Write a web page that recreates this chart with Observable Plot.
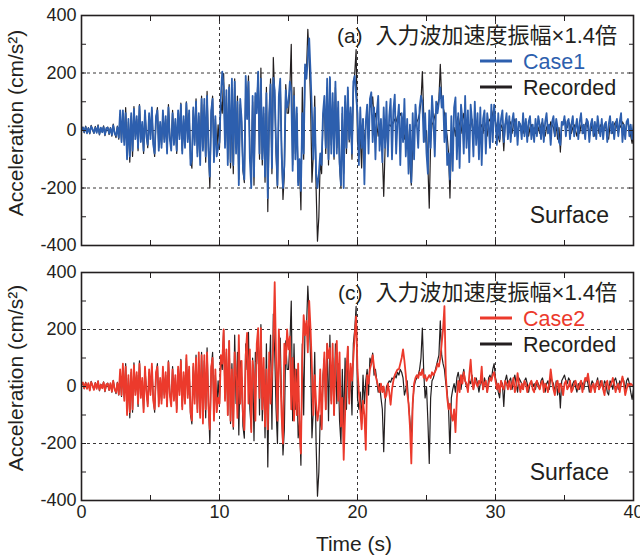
<!DOCTYPE html>
<html>
<head>
<meta charset="utf-8">
<script src="https://cdn.jsdelivr.net/npm/d3@7"></script>
<script src="https://cdn.jsdelivr.net/npm/@observablehq/plot@0.6"></script>
<style>
  html, body { margin: 0; padding: 0; background: #fff; }
  #chart { width: 640px; height: 556px; }
  #chart svg { display: block; overflow: visible; }
</style>
</head>
<body>
<div id="chart"></div>
<script>
// sampling interval of the records (s)
const dt = 0.1;

// Recorded surface acceleration (cm/s^2), one line per second
const recorded = [
  5, 12, -8, 15, -5, 10, -12, 18, 2, -10,
  14, -6, 20, -15, 8, -4, 16, -18, 6, 12,
  -14, 10, -20, 22, -8, -25, 15, -30, 40, -35,
  60, -40, 80, -60, 30, -110, 50, -90, 83, -20,
  40, -70, 90, -30, 20, -80, 60, -10, -60, 50,
  -20, 70, -40, -90, 40, 80, -60, 20, -50, 60,
  -30, 40, -70, 90, -20, -60, 70, -40, 30, -80,
  60, -20, 95, -70, 40, -50, 100, -30, 60, -100,
  -131, 70, -40, 110, -80, 50, -100, 120, -60, 90,
  -110, 136, -60, -200, 60, 120, -90, 40, -80, 20,
  -60, 100, 60, 198, -40, 120, -100, 160, -130, 80,
  -150, 180, -60, 120, -170, 90, 30, -140, -181, 150,
  60, 190, -80, -150, 100, -190, 120, 80, 200, -100,
  217, -120, 60, -180, 150, -282, 40, 180, -150, 254,
  120, -80, -200, 100, 170, -60, -240, -150, 160, 60,
  60, 150, 300, -120, 150, -80, 60, -180, -120, -276,
  150, -100, 220, 200, 352, 250, 100, -180, -80, 120,
  -200, -385, -300, -100, -150, 40, 100, -80, 150, -120,
  180, -50, 100, -100, 150, -60, 80, -120, -200, 60,
  -150, 100, -80, 140, -40, 60, -100, 150, 200, 281,
  -40, -80, -20, -130, 40, -60, 20, 60, -30, 100,
  80, 117, 40, 60, 20, -20, 10, -40, -80, -229,
  -60, 0, 10, 20, 15, 30, 25, 40, 30, 50,
  40, 60, 50, 30, -30, -10, 20, -60, -120, -190,
  -60, 0, 20, 30, 40, 60, 100, 205, 50, -40,
  0, -120, -270, -40, 20, 30, 50, 70, 90, 110,
  230, 110, 80, 60, 10, -20, -80, -235, -40, -10,
  10, -20, 30, 50, 20, -10, 30, 60, 20, 0,
  -10, 20, 10, 40, -10, 20, 30, 10, -20, 10,
  20, -10, 30, 10, -20, 30, 40, 20, 60, 80,
  30, 10, -20, -40, 20, 10, -70, 20, 40, 10,
  20, 30, -10, 20, 40, 10, -20, 30, 20, 10,
  -10, 20, 30, 10, -20, 10, 20, 0, 10, -10,
  20, 10, -10, 20, 30, 10, -20, 10, 20, -10,
  30, 20, 10, -20, 20, -30, 10, -75, 20, 30,
  40, 20, 10, 30, 20, -10, 10, 20, 0, -20,
  10, -10, 20, 10, -10, 20, 30, 10, -20, 0,
  20, 10, -20, 10, 30, -10, 20, 10, -10, 20,
  10, -20, -30, 20, 10, -10, 20, 30, 10, -10,
  20, 10, 30, 20, -10, 20, 30, 10, -20, -45,
  -10
];

// Case1 simulated (cm/s^2)
const case1 = [
  0, 10, -5, 12, -10, 8, -8, 14, 5, -8,
  10, -8, 15, -12, 10, -6, 12, -14, 8, 10,
  -10, 8, -15, 18, -10, -18, 12, -25, 70, -40,
  70, -50, 60, -100, 40, -90, 60, -70, 75, -30,
  50, -60, 85, -40, 30, -70, 70, -20, -50, 60,
  -30, 80, -50, -80, 50, 70, -70, 30, -60, 70,
  -40, 50, -80, 80, -30, -70, 60, -50, 40, -70,
  70, -30, 90, -80, 50, -60, 95, -40, 70, -120,
  -100, 80, -50, 100, -90, 60, -120, 110, -70, 110,
  -90, 120, -70, -160, 70, 110, -110, 50, -90, -60,
  -40, 120, 205, 150, -60, 140, -120, 150, -110, 180,
  -120, 170, -80, 100, -190, 110, 40, -130, -170, 190,
  40, 170, -100, -200, 120, -160, 130, 60, 205, -80,
  180, -100, 80, -160, 130, -235, 60, 160, -130, 183,
  140, -60, -190, 120, 180, -80, -200, -120, 140, 80,
  100, 170, 140, -140, 120, -100, 80, -190, -100, -210,
  60, -80, 230, 180, 250, 320, 200, 60, -100, 80,
  -150, -200, -150, -80, -120, 60, 120, -60, 180, -100,
  186, -80, 130, -90, 170, -80, 100, -110, -190, 80,
  -200, 120, -60, 150, -30, 80, -80, 170, 190, 120,
  60, -120, 80, -60, 40, -187, 30, 90, -80, 110,
  133, -40, 80, -100, 60, 120, -70, 40, -110, 80,
  -60, 100, -90, 50, 110, -100, 70, 125, -80, 30,
  90, -120, 60, -40, 110, -90, 40, -150, 20, -180,
  60, -100, 90, 20, -60, 80, 120, 100, -40, 60,
  -80, -150, 70, -60, 120, 40, -90, 100, 60, 100,
  150, 80, 120, -40, 60, -120, -80, -170, 50, -140,
  80, 115, -100, 60, -130, 90, 40, -80, 120, -60,
  70, -110, 90, 30, -90, 100, -50, 60, -100, 80,
  -120, 40, 70, -80, 60, 20, -60, 90, -40, 90,
  30, -50, 60, -30, 40, 70, -40, 20, 60, -30,
  50, -40, 30, 60, -20, 40, -50, 30, 20, -30,
  60, -20, 40, -40, 30, 50, -30, 20, -40, 40,
  -20, 50, 20, -30, 40, -40, 30, 60, -10, 20,
  -50, 30, 50, -20, 40, 10, -40, -50, 30, 20,
  50, -20, 30, 40, -30, 20, 50, -20, 10, 40,
  -30, 30, 60, -10, 20, -30, 40, 30, -40, 20,
  40, -20, 30, -30, 50, 10, -20, 40, -30, 20,
  30, -40, 20, 50, -10, 30, -30, 20, 40, -20,
  30, 60, -40, 20, -30, 30, 40, -20, 20, -30,
  20
];

// Case2 simulated (cm/s^2)
const case2 = [
  8, 14, -6, 12, -8, 12, -14, 15, 4, -12,
  12, -8, 18, -12, 6, -6, 14, -15, 8, 10,
  -12, 12, -18, 20, -10, -20, 12, -28, 60, -30,
  80, -50, 70, -100, 40, -90, 60, -80, 75, -30,
  50, -60, 80, -40, 30, -90, 70, -20, -70, 60,
  -30, 80, -50, -80, 50, 70, -70, 30, -60, 70,
  -40, 50, -70, 85, -30, -70, 60, -50, 40, -90,
  70, -30, 90, -80, 50, -60, 110, -40, 70, -90,
  -120, 80, -60, 100, -90, 120, -110, 110, -130, 110,
  -80, 120, -70, -150, 70, 100, -120, 60, -90, -40,
  -60, 110, 80, 200, -50, 130, -100, 160, -120, 60,
  -140, 120, 40, -110, 180, -60, 90, -100, -153, 110,
  188, -60, 130, -160, 90, 40, -120, 150, 205, -40,
  205, -80, 100, -140, 60, -150, 120, -60, 40, 150,
  366, 100, -120, 200, 60, -100, -200, 150, 80, 200,
  130, 175, -80, 100, -120, 60, -100, 80, -150, -235,
  100, 250, 180, 230, 120, 300, 200, 60, -100, 40,
  -60, -120, -82, 60, -150, 20, 120, -80, 150, 100,
  135, -60, 150, -100, 80, 160, -50, 120, -140, -40,
  -257, -100, 60, 140, -60, 80, 20, 100, 180, 246,
  60, -20, -80, -150, -50, -100, -222, 40, 10, 60,
  80, 110, 70, 40, 20, 0, -20, 10, -20, 0,
  -40, -30, 10, -20, -64, -10, 20, 40, 50, 60,
  60, 80, 100, 130, 90, 40, -20, -60, -140, -270,
  -60, 10, 30, 40, 30, 50, 40, 60, 30, 40,
  20, 30, 40, 30, 50, 40, 50, 60, 80, 70,
  100, 150, 200, 282, 40, -40, -80, -60, -100, -120,
  -80, -160, -40, 20, -20, 40, 10, 50, 20, 10,
  -20, 40, 94, 20, -10, 30, 10, 0, 20, 10,
  70, -10, 10, 20, -20, 10, 30, 20, 40, 50,
  20, -10, 10, -20, 20, 0, -10, 20, 10, -10,
  20, -10, 10, 30, -20, 0, 47, 10, -20, 10,
  -10, 20, 10, -20, 0, 10, 20, -10, -20, 10,
  20, 0, -10, 10, 20, -20, 10, 0, -20, 10,
  60, 20, -10, -30, 10, 20, -20, 10, 0, -30,
  10, 20, -10, 0, 20, -20, -10, 10, 20, 0,
  -10, 10, 20, -20, 10, 30, 20, 45, 10, -20,
  0, 10, -20, 10, 20, -10, 0, 20, -10, -30,
  10, 20, -10, 0, 10, 30, 10, -20, 0, 10,
  -20, 10, 35, 10, -30, -10, 10, 0, 10, 5,
  0
];

// axes
const xTicks = [0, 10, 20, 30, 40];
const xMinor = [5, 15, 25, 35];
const yTicks = [-400, -200, 0, 200, 400];
const yMinor = [-300, -100, 100, 300];
const gridX = [10, 20, 30];
const gridY = [-200, 0, 200];

// texts
const yLabel = "Acceleration (cm/s²)";
const xLabel = "Time (s)";
const note = "入力波加速度振幅×1.4倍";
const siteLabel = "Surface";
const recordedName = "Recorded";
const panelIds = ["(a)", "(c)"];
const caseNames = ["Case1", "Case2"];
const caseColors = ["#2d5fae", "#ec3a2c"];

const FONT = "'Liberation Sans', Arial, 'Noto Sans CJK JP', sans-serif";
const INK = "#231f20";

function drawPanel(idx, cfg) {
  const values = idx === 0 ? case1 : case2;
  const rec = recorded.map((a, i) => ({t: i * dt, a}));
  const sim = values.map((a, i) => ({t: i * dt, a}));
  const tickStyle = {stroke: INK, strokeWidth: 1, tickSize: -5, fill: "none", label: null};
  const svg = Plot.plot({
    width: 640,
    height: cfg.height,
    marginLeft: 81,
    marginRight: 7,
    marginTop: cfg.mt,
    marginBottom: cfg.mb,
    style: {fontFamily: FONT, fontSize: "18px", color: INK, background: "#fff", overflow: "visible"},
    x: {domain: [0, 40]},
    y: {domain: [-400, 400]},
    marks: [
      Plot.ruleX(gridX, {stroke: INK, strokeDasharray: "3,3", strokeWidth: 0.9}),
      Plot.ruleY(gridY, {stroke: INK, strokeDasharray: "3,3", strokeWidth: 0.9}),
      Plot.line(rec, {x: "t", y: "a", stroke: INK, strokeWidth: 1.2, clip: true}),
      Plot.line(sim, {x: "t", y: "a", stroke: caseColors[idx], strokeWidth: 1.8, clip: true}),
      Plot.axisX(xTicks.concat(xMinor), {anchor: "bottom", ...tickStyle}),
      Plot.axisX(xTicks.concat(xMinor), {anchor: "top", ...tickStyle}),
      Plot.axisY(yTicks.concat(yMinor), {anchor: "left", ...tickStyle}),
      Plot.axisY(yTicks.concat(yMinor), {anchor: "right", ...tickStyle}),
      Plot.axisY(yTicks, {anchor: "left", tickSize: 0, tickPadding: 5, label: null, tickFormat: d => String(d)}),
      cfg.showX ? Plot.axisX(xTicks, {anchor: "bottom", tickSize: 0, tickPadding: 5, label: null, tickFormat: d => String(d)}) : null,
      Plot.frame({stroke: INK, strokeWidth: 1.6})
    ]
  });

  const s = d3.select(svg);
  const g = s.append("g").attr("font-family", FONT).attr("fill", INK).attr("text-anchor", "start");
  const top = cfg.mt;

  g.append("text")
    .attr("transform", `translate(17,${cfg.labelY}) rotate(-90)`)
    .attr("text-anchor", "middle")
    .attr("dominant-baseline", "middle")
    .attr("font-size", 21)
    .text(yLabel);

  const t = g.append("text")
    .attr("x", 617).attr("y", top + 28)
    .attr("text-anchor", "end")
    .attr("font-size", 21);
  t.append("tspan").text(panelIds[idx]);
  t.append("tspan").attr("dx", 13).attr("font-size", 22).text(note);

  const legend = [
    {name: caseNames[idx], color: caseColors[idx], y: top + 46},
    {name: recordedName, color: INK, y: top + 72}
  ];
  for (const L of legend) {
    g.append("line").attr("x1", 480).attr("x2", 512).attr("y1", L.y).attr("y2", L.y)
      .attr("stroke", L.color).attr("stroke-width", 3);
    g.append("text").attr("x", 523).attr("y", L.y + 7.5)
      .attr("text-anchor", "start")
      .attr("font-size", 21.5).attr("fill", L.color).text(L.name);
  }

  g.append("text")
    .attr("x", 609).attr("y", top + 208)
    .attr("text-anchor", "end")
    .attr("font-size", 23)
    .text(siteLabel);

  if (cfg.showX) {
    g.append("text")
      .attr("x", 354).attr("y", cfg.height - 5)
      .attr("text-anchor", "middle")
      .attr("font-size", 21)
      .text(xLabel);
  }
  return svg;
}

const chart = document.getElementById("chart");
chart.appendChild(drawPanel(0, {height: 258, mt: 15, mb: 13, showX: false, labelY: 123}));
chart.appendChild(drawPanel(1, {height: 298, mt: 14, mb: 56, showX: true, labelY: 120}));
</script>
</body>
</html>
